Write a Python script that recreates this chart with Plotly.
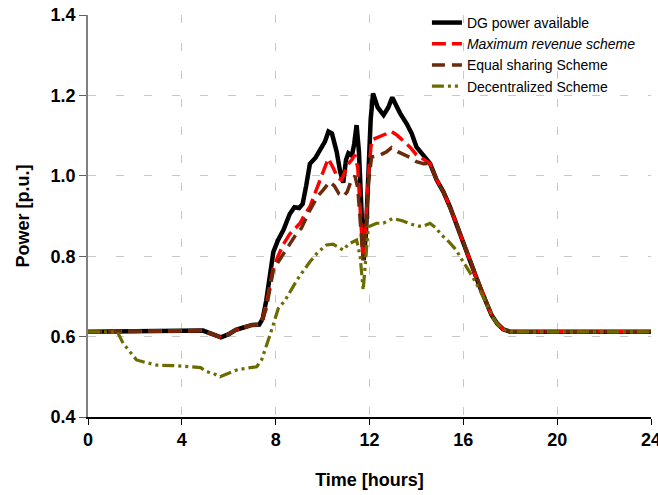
import plotly.graph_objects as go

# ---- data (hours, p.u.) ----
T_DG = [0, 4.2, 4.6, 4.9, 5.3, 5.67, 6.0, 6.3, 6.6, 7.0,
        7.3, 7.45, 7.6, 7.75, 7.9, 8.1, 8.33, 8.6, 8.8, 9.0,
        9.15, 9.3, 9.46, 9.7, 9.9, 10.1, 10.25, 10.4, 10.6, 10.75,
        10.88, 11.0, 11.1, 11.25, 11.35, 11.45, 11.55, 11.65, 11.75, 11.85,
        11.95, 12.05, 12.15, 12.35, 12.6, 12.8, 12.97, 13.15, 13.3, 13.58,
        13.8, 14.0, 14.3, 14.58, 14.86, 15.15, 15.43, 15.65, 15.86, 16.1,
        16.28, 16.5, 16.7, 16.95, 17.2, 17.45, 17.7, 18.0, 24]
DG_POWER = [0.612, 0.614, 0.616, 0.615, 0.606, 0.598, 0.606, 0.617, 0.622, 0.629,
            0.630, 0.645, 0.69, 0.76, 0.81, 0.84, 0.865, 0.905, 0.922, 0.920,
            0.93, 0.975, 1.03, 1.045, 1.064, 1.085, 1.11, 1.105, 1.06, 1.01,
            0.983, 1.04, 1.056, 1.05, 1.08, 1.126, 1.06, 0.92, 0.79, 0.86,
            1.02, 1.14, 1.205, 1.17, 1.151, 1.17, 1.195, 1.17, 1.156, 1.13,
            1.105, 1.072, 1.05, 1.031, 0.99, 0.96, 0.923, 0.89, 0.857, 0.82,
            0.79, 0.755, 0.724, 0.69, 0.654, 0.632, 0.618, 0.612, 0.612]

T_MR = [0, 4.2, 4.6, 4.9, 5.3, 5.67, 6.0, 6.3, 6.6, 7.0,
        7.3, 7.45, 7.6, 7.75, 7.9, 8.1, 8.33, 8.6, 8.9, 9.04,
        9.2, 9.46, 9.7, 9.9, 10.05, 10.24, 10.45, 10.65, 10.81, 10.95,
        11.1, 11.25, 11.38, 11.5, 11.6, 11.73, 11.85, 11.95, 12.09, 12.45,
        12.94, 13.2, 13.5, 13.75, 14.0, 14.3, 14.58, 14.86, 15.15, 15.43,
        15.65, 15.86, 16.1, 16.28, 16.5, 16.7, 16.95, 17.2, 17.45, 17.7,
        18.0, 24]
MAX_REVENUE = [0.612, 0.614, 0.616, 0.615, 0.606, 0.598, 0.606, 0.617, 0.622, 0.629,
               0.630, 0.645, 0.68, 0.73, 0.77, 0.80, 0.83, 0.855, 0.875, 0.882,
               0.90, 0.923, 0.96, 0.99, 1.01, 1.043, 1.02, 0.995, 0.99, 1.01,
               1.03, 1.04, 1.052, 1.02, 0.92, 0.79, 0.88, 1.00, 1.089, 1.097,
               1.11, 1.10, 1.085, 1.07, 1.052, 1.04, 1.031, 0.99, 0.96, 0.923,
               0.89, 0.857, 0.82, 0.79, 0.755, 0.724, 0.69, 0.654, 0.632, 0.618,
               0.612, 0.612]

T_ES = [0, 4.2, 4.6, 4.9, 5.3, 5.67, 6.0, 6.3, 6.6, 7.0,
        7.3, 7.45, 7.6, 7.75, 7.9, 8.1, 8.33, 8.6, 8.9, 9.1,
        9.39, 9.6, 9.8, 10.03, 10.3, 10.5, 10.7, 10.88, 11.05, 11.2,
        11.38, 11.5, 11.6, 11.73, 11.85, 11.95, 12.09, 12.4, 12.73, 12.94,
        13.2, 13.5, 13.75, 14.0, 14.3, 14.58, 14.86, 15.15, 15.43, 15.65,
        15.86, 16.1, 16.28, 16.5, 16.7, 16.95, 17.2, 17.45, 17.7, 18.0,
        24]
EQUAL_SHARING = [0.612, 0.614, 0.616, 0.615, 0.606, 0.598, 0.606, 0.617, 0.622, 0.629,
                 0.630, 0.645, 0.67, 0.72, 0.765, 0.785, 0.807, 0.83, 0.857, 0.87,
                 0.907, 0.93, 0.95, 0.965, 0.985, 0.975, 0.955, 0.948, 0.96, 0.985,
                 1.0, 0.97, 0.9, 0.79, 0.87, 0.98, 1.047, 1.05, 1.06, 1.07,
                 1.06, 1.052, 1.045, 1.035, 1.03, 1.031, 0.99, 0.96, 0.923, 0.89,
                 0.857, 0.82, 0.79, 0.755, 0.724, 0.69, 0.654, 0.632, 0.618, 0.612,
                 0.612]

T_DC = [0, 1.25, 1.5, 1.8, 2.07, 2.5, 2.93, 3.6, 4.35, 4.8,
        5.06, 5.35, 5.63, 6.0, 6.34, 6.8, 7.19, 7.4, 7.55, 7.69,
        7.9, 8.11, 8.4, 8.65, 8.9, 9.2, 9.46, 9.8, 10.17, 10.45,
        10.7, 10.88, 11.1, 11.45, 11.6, 11.73, 11.85, 11.95, 12.3, 12.59,
        13.0, 13.4, 13.75, 14.08, 14.3, 14.58, 14.8, 15.07, 15.4, 15.7,
        15.9, 16.14, 16.4, 16.7, 17.0, 17.28, 17.5, 17.75, 18.0, 24]
DECENTRALIZED = [0.612, 0.612, 0.583, 0.56, 0.542, 0.535, 0.529, 0.528, 0.525, 0.523,
                 0.513, 0.508, 0.50, 0.508, 0.517, 0.522, 0.525, 0.542, 0.565, 0.592,
                 0.63, 0.67, 0.69, 0.715, 0.74, 0.765, 0.786, 0.81, 0.828, 0.83,
                 0.82, 0.815, 0.83, 0.84, 0.80, 0.716, 0.80, 0.873, 0.882, 0.882,
                 0.894, 0.888, 0.88, 0.875, 0.875, 0.882, 0.872, 0.853, 0.835, 0.815,
                 0.795, 0.774, 0.748, 0.716, 0.68, 0.646, 0.628, 0.617, 0.612, 0.612]

SERIES_NAMES = ["DG power available", "<i>Maximum revenue scheme</i>",
                "Equal sharing Scheme", "Decentralized Scheme"]
X_TICKS = [0, 4, 8, 12, 16, 20, 24]
Y_TICKS = [0.4, 0.6, 0.8, 1.0, 1.2, 1.4]
Y_TICK_LABELS = ["0.4", "0.6", "0.8", "1.0", "1.2", "1.4"]

FONT = "Liberation Sans, Arial, sans-serif"

fig = go.Figure()
fig.add_trace(go.Scatter(x=T_DG, y=DG_POWER, mode="lines", name=SERIES_NAMES[0],
                         line=dict(color="black", width=4.5)))
fig.add_trace(go.Scatter(x=T_MR, y=MAX_REVENUE, mode="lines", name=SERIES_NAMES[1],
                         line=dict(color="#FF0000", width=3.5, dash="14px,6px")))
fig.add_trace(go.Scatter(x=T_ES, y=EQUAL_SHARING, mode="lines", name=SERIES_NAMES[2],
                         line=dict(color="#6B2A0A", width=3.5, dash="13px,7px")))
fig.add_trace(go.Scatter(x=T_DC, y=DECENTRALIZED, mode="lines", name=SERIES_NAMES[3],
                         line=dict(color="#6B6B00", width=3.2,
                                   dash="12px,4px,3px,4px,3px,4px")))

fig.update_layout(
    width=658, height=495,
    margin=dict(l=88, r=7, t=15, b=78, autoexpand=False),
    plot_bgcolor="white", paper_bgcolor="white",
    font=dict(family=FONT, size=18, color="black"),
    showlegend=True,
    legend=dict(x=0.602, y=1.02, xanchor="left", yanchor="top",
                bgcolor="rgba(0,0,0,0)", font=dict(size=14, family=FONT),
                tracegroupgap=0),
)
fig.update_xaxes(
    range=[0, 24], tickvals=X_TICKS, ticktext=[str(v) for v in X_TICKS],
    showgrid=True, gridcolor="#C8C8C8", griddash="8px,20px", gridwidth=1,
    showline=True, linecolor="black", linewidth=1.5,
    ticks="outside", ticklen=6, tickcolor="black", tickwidth=1,
    tickfont=dict(size=18, weight="bold", family=FONT),
    ticklabeloverflow="allow", automargin=False,
    title=dict(text="<b>Time [hours]</b>", font=dict(size=18, family=FONT), standoff=24),
    zeroline=False,
)
fig.update_yaxes(
    range=[0.4, 1.4], tickvals=Y_TICKS, ticktext=Y_TICK_LABELS,
    showgrid=True, gridcolor="#C8C8C8", griddash="8px,20px", gridwidth=1,
    showline=True, linecolor="#808080", linewidth=1.5,
    ticks="outside", ticklen=7, tickcolor="#606060", tickwidth=1,
    tickfont=dict(size=18, weight="bold", family=FONT),
    ticklabeloverflow="allow", automargin=False,
    title=dict(text="<b>Power [p.u.]</b>", font=dict(size=18, family=FONT), standoff=16),
    zeroline=False,
)

fig.write_html(
    "out.html",
    config={"displayModeBar": False},
    post_script="document.body.style.margin='0px';document.body.style.overflow='hidden';",
)
